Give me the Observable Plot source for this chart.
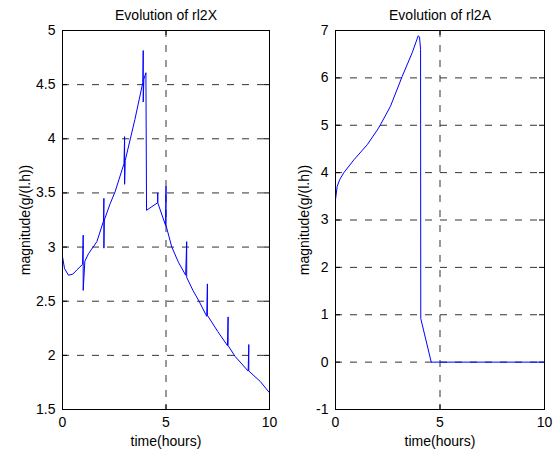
<!DOCTYPE html>
<html>
<head>
<meta charset="utf-8">
<script src="https://cdn.jsdelivr.net/npm/d3@7"></script>
<script src="https://cdn.jsdelivr.net/npm/@observablehq/plot@0.6"></script>
<style>
  html, body { margin: 0; padding: 0; background: #fff; }
  #wrap { position: relative; width: 559px; height: 450px; background: #fff; }
  #p1, #p2 { position: absolute; top: 0; }
  #p1 { left: 0; }
  #p2 { left: 280px; }
</style>
</head>
<body>
<div id="wrap"><div id="p1"></div><div id="p2"></div></div>
<script>
// ---- data ----
const timeX = [0, 0, 0.1, 0.29, 0.5, 0.7, 0.97, 1.0, 1.0, 1.08, 1.26, 1.66, 1.98, 2.0, 2.0, 2.02, 2.3, 2.54, 2.97, 3.0, 3.0, 3.03, 3.5, 3.88, 3.9, 3.9, 3.93, 4.03, 4.06, 4.6, 4.6, 4.6, 4.98, 5.0, 5.0, 5.28, 5.6, 5.95, 6.0, 6.0, 6.3, 6.57, 6.97, 7.0, 7.0, 7.5, 7.97, 8.0, 8.0, 8.34, 8.97, 9.0, 9.0, 9.55, 10.0, 10.0];
const valX  = [3.6, 2.91, 2.8, 2.74, 2.75, 2.79, 2.84, 3.11, 2.6, 2.87, 2.94, 3.05, 3.24, 3.45, 2.99, 3.25, 3.40, 3.51, 3.77, 4.02, 3.58, 3.8, 4.18, 4.52, 4.815, 4.34, 4.55, 4.61, 3.34, 3.41, 3.5, 3.41, 3.2, 3.56, 3.2, 3.0, 2.86, 2.74, 3.05, 2.72, 2.6, 2.51, 2.36, 2.66, 2.37, 2.22, 2.09, 2.355, 2.09, 1.99, 1.855, 2.10, 1.855, 1.76, 1.654, 1.83];

const timeA = [0, 0, 0.08, 0.2, 0.4, 0.88, 1.52, 2.0, 2.15, 2.63, 3.19, 3.67, 3.96, 4.02, 4.07, 4.08, 4.58, 10];
const valA  = [2.0, 3.43, 3.71, 3.85, 4.0, 4.27, 4.59, 4.9, 5.01, 5.40, 6.03, 6.53, 6.89, 6.86, 6.6, 0.92, 0, 0];

const xTicks  = [0, 5, 10];
const yTicksX = [1.5, 2, 2.5, 3, 3.5, 4, 4.5, 5];
const yTicksA = [-1, 0, 1, 2, 3, 4, 5, 6, 7];

const titles = ["Evolution of rl2X", "Evolution of rl2A"];
const xLabel = "time(hours)";
const yLabel = "magnitude(g/(l.h))";

// ---- drawing ----
const FONT = "'Liberation Sans', Arial, Helvetica, sans-serif";

function panel({times, vals, yDomain, yTicks, title, width, marginLeft, marginRight, ylabelDx}) {
  const height = 450, marginTop = 30, marginBottom = 41;
  const innerW = width - marginLeft - marginRight;
  const innerH = height - marginTop - marginBottom;
  const pts = times.map((t, i) => ({t, v: vals[i]}));
  const fmt = d => String(d);
  return Plot.plot({
    width, height, marginLeft, marginRight, marginTop, marginBottom,
    style: {fontFamily: FONT, fontSize: "14px", background: "white", color: "black", overflow: "visible"},
    x: {domain: [0, 10]},
    y: {domain: yDomain},
    marks: [
      // dashed grid
      Plot.ruleY(yTicks, {y: d => d, stroke: "#333", strokeDasharray: "7,8", strokeWidth: 1}),
      Plot.ruleX(xTicks, {x: d => d, stroke: "#333", strokeDasharray: "7,8", strokeWidth: 1}),
      // inward ticks on four sides
      Plot.tickY(yTicks, {y: d => d, insetRight: innerW - 5, stroke: "black"}),
      Plot.tickY(yTicks, {y: d => d, insetLeft: innerW - 5, stroke: "black"}),
      Plot.tickX(xTicks, {x: d => d, insetTop: innerH - 5, stroke: "black"}),
      Plot.tickX(xTicks, {x: d => d, insetBottom: innerH - 5, stroke: "black"}),
      // data line
      Plot.line(pts, {x: "t", y: "v", stroke: "#0000ff", strokeWidth: 1}),
      Plot.frame({stroke: "black", strokeWidth: 1}),
      // axes (labels only)
      Plot.axisX({ticks: xTicks, tickSize: 0, tickPadding: 8, tickFormat: fmt, label: null, fontSize: 14}),
      Plot.axisY({ticks: yTicks, tickSize: 0, tickPadding: 7, tickFormat: fmt, label: null, fontSize: 14}),
      // titles and axis labels
      Plot.text([title], {frameAnchor: "top", lineAnchor: "middle", dy: -15, fontSize: 14, fill: "black"}),
      Plot.text([xLabel], {frameAnchor: "bottom", lineAnchor: "middle", dy: 32, fontSize: 14, fill: "black"}),
      Plot.text([yLabel], {frameAnchor: "left", textAnchor: "middle", lineAnchor: "middle", dx: ylabelDx, rotate: -90, fontSize: 14, fill: "black"})
    ]
  });
}

document.getElementById("p1").appendChild(panel({
  times: timeX, vals: valX, yDomain: [1.5, 5], yTicks: yTicksX, title: titles[0],
  width: 280, marginLeft: 62, marginRight: 11, ylabelDx: -37
}));
document.getElementById("p2").appendChild(panel({
  times: timeA, vals: valA, yDomain: [-1, 7], yTicks: yTicksA, title: titles[1],
  width: 279, marginLeft: 55, marginRight: 15, ylabelDx: -31
}));
</script>
</body>
</html>
